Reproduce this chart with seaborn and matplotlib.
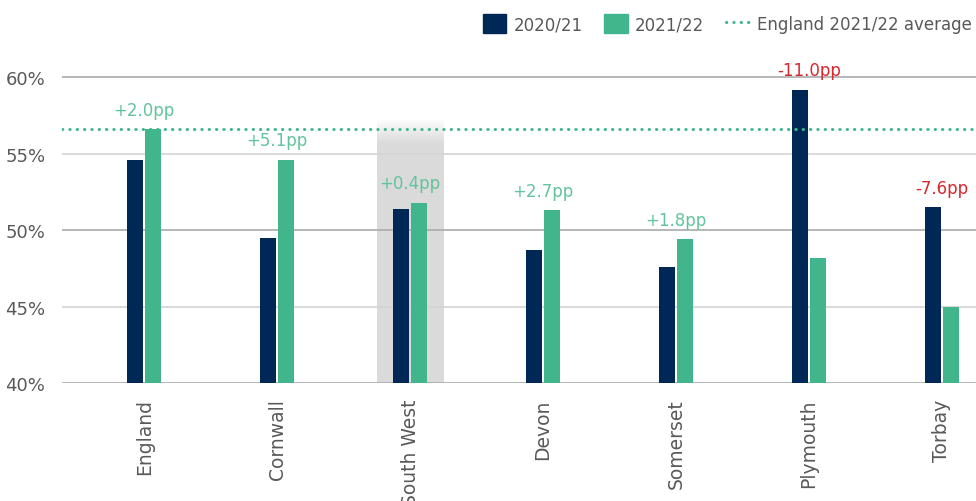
import numpy as np
import pandas as pd
import seaborn as sns
import matplotlib.pyplot as plt
from matplotlib.patches import Patch
from matplotlib.lines import Line2D

# values
areas = ['England', 'Cornwall', 'South West', 'Devon', 'Somerset', 'Plymouth', 'Torbay']
rate_2021 = [54.6, 49.5, 51.4, 48.7, 47.6, 59.2, 51.5]
rate_2122 = [56.6, 54.6, 51.8, 51.3, 49.4, 48.2, 45.0]
change_labels = ['+2.0pp', '+5.1pp', '+0.4pp', '+2.7pp', '+1.8pp', '-11.0pp', '-7.6pp']
years = ['2020/21', '2021/22']
england_avg = 56.6
highlight = 'South West'
yticks = [40, 45, 50, 55, 60]

NAVY = '#002856'
GREEN = '#41b68d'
GREEN_TXT = '#62c49d'
RED = '#d7282f'
TXT = '#595959'
DOTS = (0, (0.1, 2.3))

sns.set_theme(style='white')
plt.rcParams['font.family'] = ['DejaVu Sans']

df = pd.DataFrame({'Area': areas * 2,
                   'Rate': rate_2021 + rate_2122,
                   'Year': [years[0]] * len(areas) + [years[1]] * len(areas)})

fig = plt.figure(figsize=(9.76, 5.02), dpi=100)
ax = fig.add_axes([0.0635, 0.235, 0.9365, 0.641])

sns.barplot(data=df, x='Area', y='Rate', hue='Year', order=areas, hue_order=years,
            palette=[NAVY, GREEN], width=0.27, gap=0.1, saturation=1,
            linewidth=0, legend=False, ax=ax, zorder=3)

# grey highlight band with a soft top edge
hi = areas.index(highlight)
band_top = 57.3
ys = np.linspace(40, band_top, 200)
alpha = np.clip((band_top - ys) / 1.6, 0, 1)
band = np.zeros((200, 1, 4))
band[..., :3] = 0.855
band[:, 0, 3] = alpha
ax.imshow(band, origin='lower', aspect='auto', zorder=1,
          extent=(hi - 0.25, hi + 0.25, 40, band_top))

# gridlines (alternating shade)
for i, t in enumerate(yticks):
    ax.axhline(t, color='#aaaaaa' if i % 2 == 0 else '#d3d3d3', lw=1.2, zorder=2)

ax.axhline(england_avg, color=GREEN, lw=2.2, linestyle=DOTS,
           dash_capstyle='round', zorder=4)

for i, lab in enumerate(change_labels):
    top = max(rate_2021[i], rate_2122[i])
    ax.annotate(lab, (i, top), xytext=(0, 14), textcoords='offset points',
                ha='center', va='center', fontsize=12,
                color=RED if lab.startswith('-') else GREEN_TXT)

ax.set_xlim(-0.619, 6.256)
ax.set_ylim(40, 61.05)
ax.set_yticks(yticks)
ax.set_yticklabels([f'{t}%' for t in yticks])
ax.tick_params(axis='y', length=0, labelsize=13, labelcolor=TXT, pad=12)
ax.tick_params(axis='x', length=0, labelsize=13.5, labelcolor=TXT, pad=11,
               labelrotation=90)
ax.set_xlabel('')
ax.set_ylabel('')
sns.despine(ax=ax, left=True, bottom=True)

handles = [Patch(color=NAVY), Patch(color=GREEN),
           Line2D([], [], color=GREEN, lw=2.2, linestyle=DOTS,
                  dash_capstyle='round')]
fig.legend(handles, years + ['England 2021/22 average'], loc='upper right',
           bbox_to_anchor=(1.011, 1.0), ncol=3, frameon=False, fontsize=12,
           labelcolor=TXT, handlelength=1.4, handleheight=1.4,
           handletextpad=0.45, columnspacing=1.3)

fig.savefig('out.png', dpi=100)
